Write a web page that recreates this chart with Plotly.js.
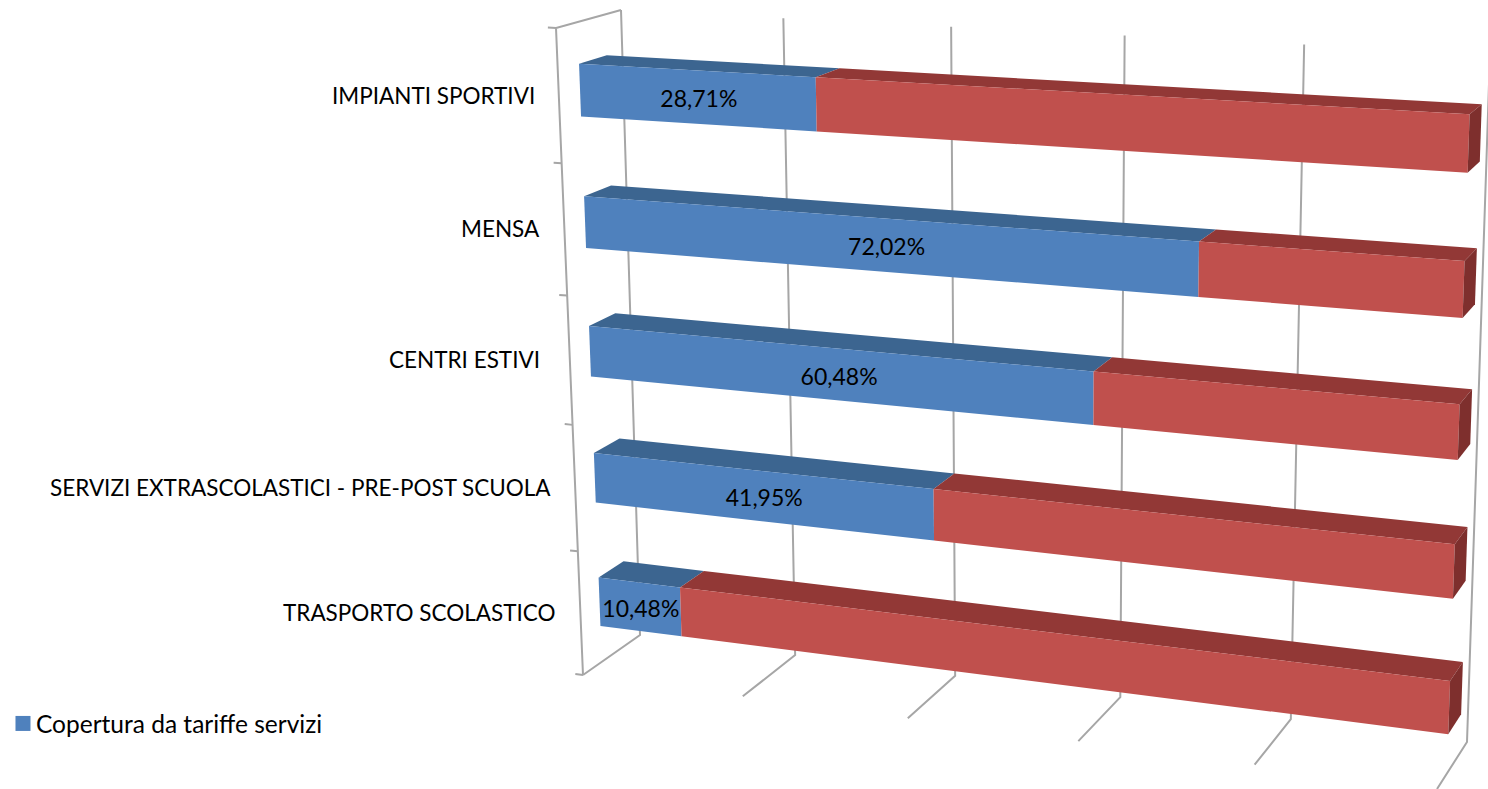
<!DOCTYPE html>
<html>
<head>
<meta charset="utf-8">
<script src="https://cdn.plot.ly/plotly-3.0.1.min.js"></script>
<style>html,body{margin:0;padding:0;background:#fff;overflow:hidden}</style>
</head>
<body>
<div id="chart" style="width:1488px;height:789px"></div>
<script>
// ---- data ----
const categories = ["IMPIANTI SPORTIVI", "MENSA", "CENTRI ESTIVI\u00a0", "SERVIZI EXTRASCOLASTICI - PRE-POST SCUOLA", "TRASPORTO SCOLASTICO"];
const coverage = [28.71, 72.02, 60.48, 41.95, 10.48];
const remainder = [71.29, 27.98, 39.52, 58.05, 89.52];
const valueLabels = ["28,71%", "72,02%", "60,48%", "41,95%", "10,48%"];
const gridValues = [0, 20, 40, 60, 80, 100];
const legendLabel = "Copertura da tariffe servizi";

// ---- 3D-looking projection: (value 0-100, row 0-5, depth 0-1) -> page pixels ----
function quad(p0, p1, p2, p3) {
  const dx1 = p1[0]-p2[0], dx2 = p3[0]-p2[0], sx = p0[0]-p1[0]+p2[0]-p3[0];
  const dy1 = p1[1]-p2[1], dy2 = p3[1]-p2[1], sy = p0[1]-p1[1]+p2[1]-p3[1];
  const den = dx1*dy2 - dx2*dy1;
  const g = (sx*dy2 - dx2*sy)/den, h = (dx1*sy - sx*dy1)/den;
  const a = p1[0]-p0[0]+g*p1[0], b = p3[0]-p0[0]+h*p3[0], c = p0[0];
  const d = p1[1]-p0[1]+g*p1[1], e = p3[1]-p0[1]+h*p3[1], f = p0[1];
  return (u, v) => { const w = g*u+h*v+1; return [(a*u+b*v+c)/w, (d*u+e*v+f)/w]; };
}
const frontPlane = quad([556,28],[1462,75],[1437,789],[583,675]);
const backPlane  = quad([621,10],[1490,54],[1467,742],[640,635]);
function project(value, row, depth) {
  const A = frontPlane(value/100, row/5), B = backPlane(value/100, row/5);
  return [A[0]+(B[0]-A[0])*depth, A[1]+(B[1]-A[1])*depth];
}
// the walls foreshorten a touch less than the bars
const wallValue = v => { const t = v/100; return 100*1.02*t/(1+0.02*t); };

const barTop = 0.31, barBottom = 0.705, barFront = 0.33, barBack = 0.76;
const traces = [];
function poly(points, color) {
  traces.push({type:"scatter", mode:"lines", x:points.map(p=>p[0]).concat(points[0][0]), y:points.map(p=>p[1]).concat(points[0][1]),
    fill:"toself", fillcolor:color, line:{width:0, color:color}, hoverinfo:"skip", showlegend:false});
}
function line(points) {
  traces.push({type:"scatter", mode:"lines", x:points.map(p=>p[0]), y:points.map(p=>p[1]),
    line:{width:2, color:"#a6a6a6"}, hoverinfo:"skip", showlegend:false});
}

// walls and floor
gridValues.forEach(v => {
  const w = wallValue(v);
  line([project(w,0,1), project(w,5,1), project(w,5,0)]);
});
line([project(0,5,0), project(0,0,0), project(0,0,1)]);
for (let s = 0; s <= 5; s++) line([project(-1,s,0), project(0,s,0)]);

// bars
function segment(row, from, to, frontColor, topColor) {
  const t = row+barTop, b = row+barBottom;
  poly([project(from,t,barFront), project(to,t,barFront), project(to,t,barBack), project(from,t,barBack)], topColor);
  poly([project(from,t,barFront), project(to,t,barFront), project(to,b,barFront), project(from,b,barFront)], frontColor);
}
categories.forEach((c, i) => {
  segment(i, 0, coverage[i], "#4f81bd", "#3c6590");
  const end = coverage[i]+remainder[i];
  segment(i, coverage[i], end, "#c0504d", "#923836");
  poly([project(end,i+barTop,barFront), project(end,i+barTop,barBack), project(end,i+barBottom,barBack), project(end,i+barBottom,barFront)], "#7e2f2d");
});

// value labels
traces.push({type:"scatter", mode:"text", text:valueLabels,
  x:coverage.map((v,i)=>project(v*0.51,i+0.54,barFront)[0]),
  y:coverage.map((v,i)=>project(v*0.51,i+0.54,barFront)[1]),
  textposition:"middle center", textfont:{family:"Lato, sans-serif", size:23, color:"#000"}, hoverinfo:"skip", showlegend:false});

// legend entry
traces.push({type:"scatter", mode:"markers", x:[null], y:[null], name:legendLabel,
  marker:{symbol:"square", size:15, color:"#4f81bd"}, showlegend:true});

const annotations = categories.map((c,i) => {
  const p = project(0,i+0.5,0);
  return {x:p[0]-22, y:p[1]-1, xref:"x", yref:"y", text:c, showarrow:false, xanchor:"right", yanchor:"middle",
    font:{family:"Lato, sans-serif", size:22.5, color:"#000"}};
});

const layout = {
  width:1488, height:789, autosize:false,
  margin:{l:0,r:0,t:0,b:0,pad:0,autoexpand:false},
  paper_bgcolor:"#fff", plot_bgcolor:"#fff",
  xaxis:{range:[0,1488], visible:false, fixedrange:true},
  yaxis:{range:[789,0], visible:false, fixedrange:true},
  annotations:annotations,
  showlegend:true,
  legend:{x:-0.0027, xanchor:"left", y:0.083, yanchor:"middle", bgcolor:"rgba(0,0,0,0)",
    font:{family:"Lato, sans-serif", size:24.5, color:"#000"}}
};
Plotly.newPlot("chart", traces, layout, {displayModeBar:false, staticPlot:true}).then(gd => {
  // the reference keeps the swatch right next to the legend text
  gd.querySelectorAll(".legend .legendpoints").forEach(n => n.setAttribute("transform", "translate(7,0)"));
});
</script>
</body>
</html>
